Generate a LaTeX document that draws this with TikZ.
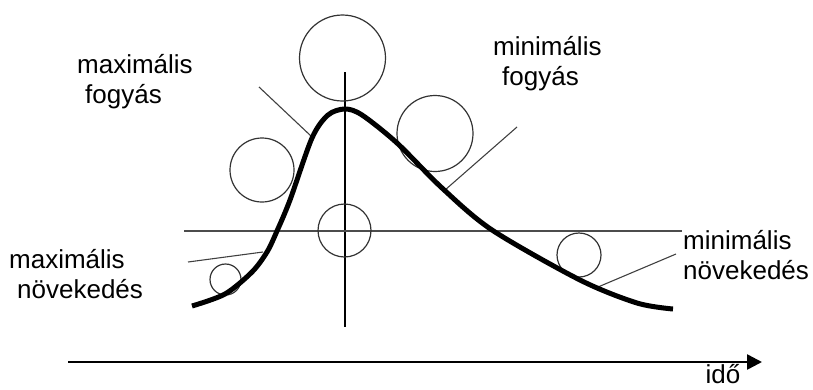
\documentclass[tikz,border=0pt]{standalone}
\usepackage{fontspec}
\setmainfont{Liberation Sans}
\usepackage{tikz}
\usetikzlibrary{arrows.meta}
\tikzset{
  >={Triangle[length=15pt,width=15pt]},
  lbl/.style={font=\fontsize{26}{30}\selectfont, align=left, inner sep=0pt, anchor=base west},
}

\begin{document}
\begin{tikzpicture}[
  x=1pt,y=-1pt,
  ball/.style={draw=black!80, line width=1.2pt},
  tangent/.style={draw=black!75, line width=1.1pt},
  axis/.style={line width=1.5pt},
  curve/.style={line width=5pt}
]
\useasboundingbox (0,0) rectangle (813,389);

% axes through the peak
\coordinate (vtop) at (345,72);
\coordinate (vbot) at (345,327);
\coordinate (hl) at (184,231);
\coordinate (hr) at (682,231);
\draw[axis] (vtop) -- (vbot);
\draw[axis, draw=black!70, line width=2pt] (hl) -- (hr);

% circles
\draw[ball] (342.5,58) circle[radius=43pt];
\draw[ball] (262,170) circle[radius=32pt];
\draw[ball] (435,133.5) circle[radius=38pt];
\draw[ball] (344.5,230.5) circle[radius=26.5pt];
\draw[ball] (225.5,279.5) circle[radius=15.5pt];
\draw[ball] (579,255) circle[radius=22pt];

% tangents
\draw[tangent] (259,87) -- (311,136);
\draw[tangent] (445,190) -- (517,127);
\draw[tangent] (188,262) -- (263,252);
\draw[tangent] (598,287) -- (676,254);

% the curve
\draw[curve] plot[smooth, tension=0.5] coordinates {
  (192,306) (225,294) (252,272) (267,252) (277,231) (290,200) (312,138)
  (328,115) (345,109) (362,115) (397,143) (442,188) (492,230)
  (580,280) (637,303) (673,309)};

% time axis
\coordinate (t0) at (68,362);
\coordinate (t1) at (762,362);
\draw[->, line width=2.5pt] (t0) -- (t1);
\node[lbl, anchor=base] (ido) at (723,383) {idő};

% labels (anchored at the last line)
\node[lbl] (maxfogy) at (77,103) {maximális\\\hspace*{8pt}fogyás};
\node[lbl] (minfogy) at (493,85) {minimális\\\hspace*{9pt}fogyás};
\node[lbl] (maxnov) at (9,298) {maximális\\\hspace*{8pt}növekedés};
\node[lbl] (minnov) at (683,279) {minimális\\növekedés};
\end{tikzpicture}
\end{document}
